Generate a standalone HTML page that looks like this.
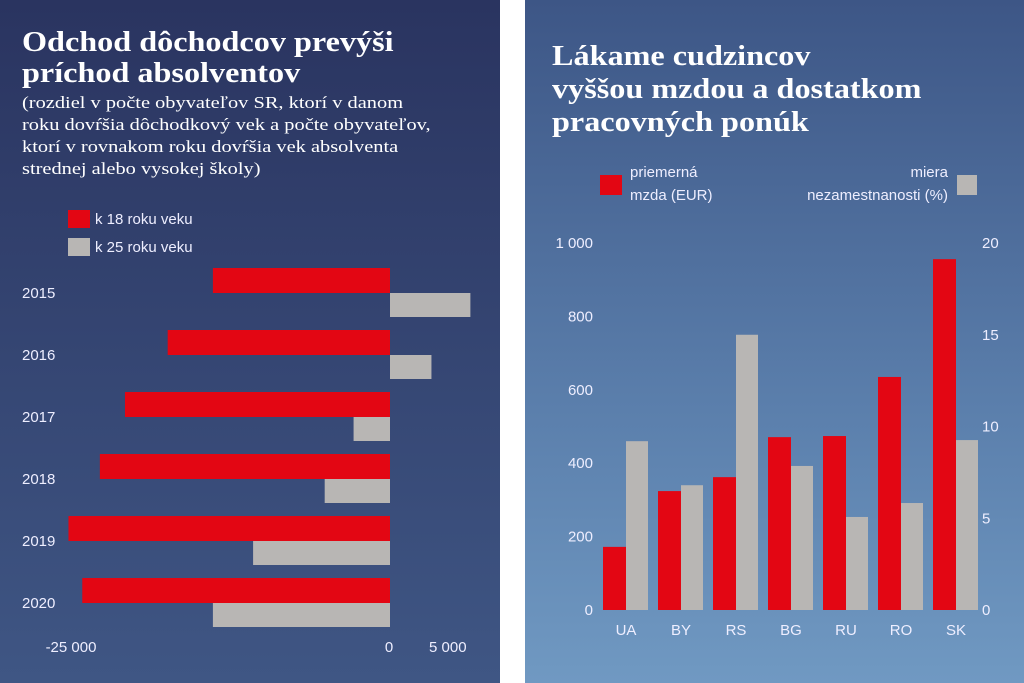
<!DOCTYPE html>
<html><head><meta charset="utf-8"><style>
body{margin:0;width:1024px;height:683px;background:#fff;position:relative;overflow:hidden;font-family:"Liberation Sans",sans-serif}
.p{position:absolute;top:0;height:683px}
#lp{left:0;width:500px;background:linear-gradient(#2a3460,#3f5684)}
#rp{left:525px;width:499px;background:linear-gradient(#3d5686,#5b7fac 60%,#7099c2)}
.t{position:absolute;color:#fff;font-family:"Liberation Serif",serif;font-weight:bold;font-size:28px;line-height:31px;transform:scaleX(1.15);transform-origin:left top;white-space:nowrap}
.s{position:absolute;color:#fff;font-family:"Liberation Serif",serif;font-size:17px;line-height:22px;transform:scaleX(1.2);transform-origin:left top;white-space:nowrap}
svg{position:absolute;left:0;top:0}
svg text{font-family:"Liberation Sans",sans-serif;fill:#eef;font-size:15px}
</style></head><body>
<div class="p" id="lp"></div>
<div class="p" id="rp"></div>
<div class="t" style="left:22px;top:27px">Odchod dôchodcov prevýši<br>príchod absolventov</div>
<div class="s" style="left:22px;top:92px">(rozdiel v počte obyvateľov SR, ktorí v danom<br>roku dovŕšia dôchodkový vek a počte obyvateľov,<br>ktorí v rovnakom roku dovŕšia vek absolventa<br>strednej alebo vysokej školy)</div>
<div class="t" style="left:552px;top:40px;line-height:33px">Lákame cudzincov<br>vyššou mzdou a dostatkom<br>pracovných ponúk</div>
<svg width="1024" height="683" id="c">
<rect x="68" y="210" width="22" height="18" fill="#e30613"/>
<text x="95" y="224">k 18 roku veku</text>
<rect x="68" y="238" width="22" height="18" fill="#b8b6b4"/>
<text x="95" y="252">k 25 roku veku</text>
<rect x="600" y="175" width="22" height="20" fill="#e30613"/>
<text x="630" y="177">priemerná</text>
<text x="630" y="200">mzda (EUR)</text>
<rect x="957" y="175" width="20" height="20" fill="#b8b6b4"/>
<text x="948" y="177" text-anchor="end">miera</text>
<text x="948" y="200" text-anchor="end">nezamestnanosti (%)</text>
</svg>
<script>
const years=['2015','2016','2017','2018','2019','2020'];
const age18=[-14100,-17700,-21100,-23100,-25600,-24500];
const age25=[6400,3300,-2900,-5200,-10900,-14100];
const xTicks=[-25000,0,5000];
const xTickLabels=['-25 000','0','5 000'];
const countries=['UA','BY','RS','BG','RU','RO','SK'];
const wage=[172,324,362,471,474,635,956];
const unemp=[9.2,6.8,15.0,7.85,5.07,5.83,9.26];
const wageTicks=[0,200,400,600,800,1000];
const wageTickLabels=['0','200','400','600','800','1 000'];
const unempTicks=[0,5,10,15,20];
const svg=document.getElementById('c');
const NS='http://www.w3.org/2000/svg';
function mk(t,a){const e=document.createElementNS(NS,t);for(const k in a)e.setAttribute(k,a[k]);svg.appendChild(e);return e;}
const lx=v=>390+v*0.01256;
years.forEach((y,i)=>{
  const top=268+i*62;
  let r=mk('rect',{x:Math.min(lx(age18[i]),lx(0)),y:top,width:Math.abs(lx(age18[i])-lx(0)),height:25,fill:'#e30613'});
  
  
  let g=mk('rect',{x:Math.min(lx(age25[i]),lx(0)),y:top+25,width:Math.abs(lx(age25[i])-lx(0)),height:24,fill:'#b8b6b4'});
  
  
  let t=mk('text',{x:22,y:top+30,'font-size':'16'});t.textContent=y;
  
  
});
xTicks.forEach((v,i)=>{
  let t=mk('text',{x:v===0?lx(v)-1:lx(v)-5,y:652,'text-anchor':'middle'});t.textContent=xTickLabels[i];
  
  
});
const wy=v=>610-v*0.367;
const uy=v=>610-v*18.35;
countries.forEach((c,i)=>{
  const x0=603+i*55;
  let r=mk('rect',{x:x0,y:wy(wage[i]),width:23,height:610-wy(wage[i]),fill:'#e30613'});
  
  
  let g=mk('rect',{x:x0+23,y:uy(unemp[i]),width:22,height:610-uy(unemp[i]),fill:'#b8b6b4'});
  
  
  let t=mk('text',{x:x0+23,y:635,'text-anchor':'middle'});t.textContent=c;
  
  
});
wageTicks.forEach((v,i)=>{
  let t=mk('text',{x:593,y:wy(v)+5,'text-anchor':'end'});t.textContent=wageTickLabels[i];
  
  
});
unempTicks.forEach(v=>{
  let t=mk('text',{x:982,y:uy(v)+5});t.textContent=String(v);
  
  
});
</script>
</body></html>
